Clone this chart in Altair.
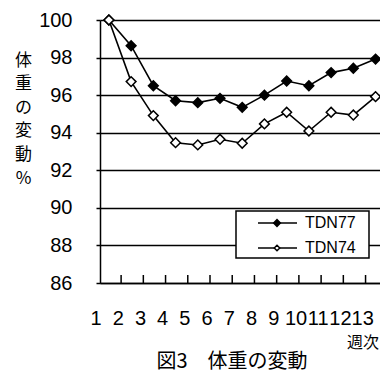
import altair as alt
import pandas as pd

weeks = list(range(1, 14))
tdn77 = [100, 98.63, 96.5, 95.7, 95.6, 95.83, 95.35, 96.0, 96.75, 96.5, 97.2, 97.43, 97.92]
tdn74 = [100, 96.72, 94.91, 93.47, 93.35, 93.65, 93.44, 94.47, 95.09, 94.09, 95.09, 94.94, 95.92]
series_names = ["TDN77", "TDN74"]
y_ticks = [86, 88, 90, 92, 94, 96, 98, 100]
x_labels = [str(w) for w in weeks]
y_title = ["体", "重", "の", "変", "動", "%"]
chart_title = "図3　体重の変動"
x_title = "週次"

FONT = "Liberation Sans, Arial, Noto Sans CJK JP"
CJK = "Noto Sans CJK JP"

df = pd.DataFrame({
    "week": weeks * 2,
    "value": tdn77 + tdn74,
    "series": [series_names[0]] * 13 + [series_names[1]] * 13,
})
tick_df = pd.DataFrame({"x": [w + 0.55 for w in weeks[:-1]]})
lab_df = pd.DataFrame({"x": [w - 0.58 for w in weeks], "t": x_labels})

W, H = 280, 263
xs = alt.Scale(domain=[0.6, 13.2], nice=False, zero=False)
ys = alt.Scale(domain=[86, 100], nice=False, zero=False)

yaxis = alt.Axis(values=y_ticks, labelFontSize=20, labelFont=FONT, labelColor="black",
                 tickColor="black", tickSize=4, tickWidth=1.5, domainColor="black",
                 domainWidth=1.5, grid=True, gridColor="black", gridWidth=1.5,
                 labelPadding=24, title=y_title, titleAngle=0, titleX=-77, titleY=32,
                 titleBaseline="top", titleAlign="center", titleFontSize=17,
                 titleFontWeight="normal", titleLineHeight=23.6, titleFont=CJK,
                 titleColor="black", labelOverlap=False, labelFlush=False)
xaxis = alt.Axis(labels=False, ticks=False, grid=False, domain=True, domainColor="black",
                 domainWidth=1.5, title=None)

base = alt.Chart(df)
lines = base.mark_line(color="black", strokeWidth=1.6).encode(
    x=alt.X("week:Q", scale=xs, axis=xaxis),
    y=alt.Y("value:Q", scale=ys, axis=yaxis),
    detail="series:N",
)
points = base.mark_point(shape="diamond", size=95, filled=False, strokeWidth=1.5,
                         stroke="black", opacity=1).encode(
    x=alt.X("week:Q", scale=xs, axis=xaxis),
    y=alt.Y("value:Q", scale=ys, axis=yaxis),
    fill=alt.Fill("series:N", scale=alt.Scale(domain=series_names, range=["black", "white"]),
                  legend=None),
)
ticks = alt.Chart(tick_df).mark_rule(color="black", strokeWidth=1.5).encode(
    x=alt.X("x:Q", scale=xs, axis=xaxis), y=alt.value(H), y2=alt.value(H - 8))
labels = alt.Chart(lab_df).mark_text(fontSize=20, font=FONT, color="black",
                                     baseline="middle", align="center").encode(
    x=alt.X("x:Q", scale=xs, axis=xaxis), y=alt.value(299), text="t:N")

title = alt.Chart(pd.DataFrame({"t": [chart_title]})).mark_text(
    fontSize=20, font=CJK, color="black", baseline="middle", align="center").encode(
    x=alt.value(132), y=alt.value(342), text="t:N")
xt = alt.Chart(pd.DataFrame({"t": [x_title]})).mark_text(
    fontSize=16, font=CJK, color="black", baseline="middle", align="center").encode(
    x=alt.value(263), y=alt.value(323), text="t:N")

leg_box = alt.Chart(pd.DataFrame({"a": [0]})).mark_rect(
    fill="white", stroke="black", strokeWidth=1.5).encode(
    x=alt.value(136), x2=alt.value(269), y=alt.value(191), y2=alt.value(238))

leg_layers = []
for i, (name, fillc, sz) in enumerate(zip(series_names, ["black", "white"], [45, 30])):
    yy = 203 + i * 25
    d = pd.DataFrame({"s": [name]})
    leg_layers.append(alt.Chart(d).mark_rule(color="black", strokeWidth=1.5).encode(
        x=alt.value(158), x2=alt.value(197), y=alt.value(yy)))
    leg_layers.append(alt.Chart(d).mark_point(shape="diamond", size=sz, fill=fillc,
                                               stroke="black", strokeWidth=1.5, opacity=1,
                                               filled=False).encode(
        x=alt.value(177), y=alt.value(yy)))
    leg_layers.append(alt.Chart(d).mark_text(fontSize=16, font=FONT, color="black",
                                              align="left", baseline="middle").encode(
        x=alt.value(205), y=alt.value(yy), text="s:N"))

chart = alt.layer(lines, points, ticks, labels, title, xt, leg_box, *leg_layers).properties(
    width=W, height=H,
    padding={"left": 100, "top": 20, "right": 0, "bottom": 95},
    autosize=alt.AutoSizeParams(type="none"),
    background="white",
).configure_view(stroke=None)

chart.save("out.html", embed_options={"renderer": "svg", "actions": False})
